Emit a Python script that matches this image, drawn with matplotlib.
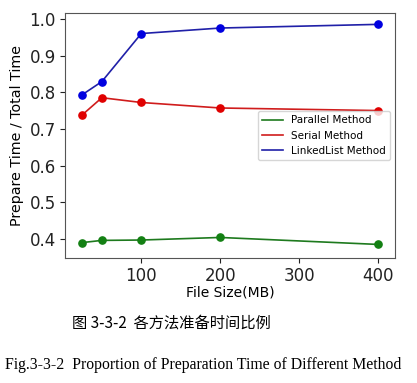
import matplotlib
matplotlib.use("Agg")
import matplotlib.pyplot as plt
from matplotlib.lines import Line2D

sizes = [25, 50, 100, 200, 400]
parallel = [0.390, 0.396, 0.397, 0.404, 0.385]
serial = [0.738, 0.785, 0.772, 0.757, 0.750]
linked = [0.793, 0.829, 0.960, 0.975, 0.985]
labels = ["Parallel Method", "Serial Method", "LinkedList Method"]
line_colors = ["#1e7a1e", "#d01c1c", "#2020a8"]
marker_colors = ["#138013", "#e00000", "#0000e0"]

fig = plt.figure(figsize=(4.17, 3.83), dpi=100)
ax = fig.add_axes([65/417, 1-258/383, (395-65)/417, (258-13)/383])
handles = []
for ys, lc, mc, lab in zip([parallel, serial, linked], line_colors, marker_colors, labels):
    ax.plot(sizes, ys, color=lc, lw=1.2, marker="o", markersize=5.2,
            markerfacecolor=mc, markeredgecolor=mc)
    handles.append(Line2D([], [], color=lc, lw=1.2, label=lab))
ax.set_ylim(0.348, 1.016)
ax.set_xlim(3.3, 421.5)
ax.set_xticks([100, 200, 300, 400])
ax.set_yticks([0.4, 0.5, 0.6, 0.7, 0.8, 0.9, 1.0])
ax.tick_params(labelsize=12, colors="#222222", pad=3)
for s in ax.spines.values():
    s.set_color("#555555")
ax.set_ylabel("Prepare Time / Total Time", fontsize=10.3, labelpad=4)
ax.set_xlabel("File Size(MB)", fontsize=10, labelpad=0)
ax.legend(handles=handles, loc="upper right", bbox_to_anchor=(1.0, 0.62), fontsize=7.5,
          framealpha=0.8)

fig.text(0.41, 1-323/383, "图 3-3-2  各方法准备时间比例", family=["Noto Sans CJK SC", "DejaVu Sans"],
         fontsize=11, ha="center", va="center")
fig.text(0.487, 1-365/383, "Fig.3-3-2  Proportion of Preparation Time of Different Method",
         family="Liberation Serif", fontsize=11.3, ha="center", va="center")
fig.savefig("out.png", dpi=100)
